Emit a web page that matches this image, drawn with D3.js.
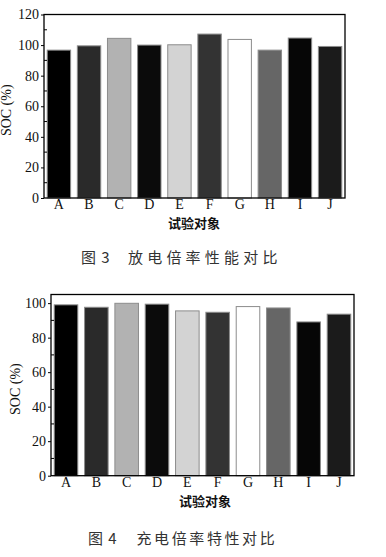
<!DOCTYPE html>
<html>
<head>
<meta charset="utf-8">
<script src="https://cdn.jsdelivr.net/npm/d3@7"></script>
<style>
  body { margin: 0; background: #fff; }
  svg { display: block; }
</style>
</head>
<body>
<div id="chart"></div>
<script>
// test objects A..J
const categories = ['A', 'B', 'C', 'D', 'E', 'F', 'G', 'H', 'I', 'J'];
// fig 3: discharge rate SOC (%)
const dischargeSOC = [96.7, 99.5, 104.4, 100, 100.2, 107.2, 103.7, 96.7, 104.6, 99.1];
// fig 4: charge rate SOC (%)
const chargeSOC = [99, 97.6, 99.9, 99.4, 95.5, 94.7, 98, 97.2, 89.1, 93.6];
const barColors = ['#000', '#2a2a2a', '#b2b2b2', '#0b0b0b', '#d3d3d3', '#333', '#fff', '#666', '#060606', '#1b1b1b'];
const ticks3 = [0, 20, 40, 60, 80, 100, 120];
const ticks4 = [0, 20, 40, 60, 80, 100];

const svg = d3.select('#chart').append('svg')
  .attr('width', 386)
  .attr('height', 557);

function drawChart(opt) {
  const x = d3.scaleBand()
    .domain(categories)
    .range([opt.left, opt.right])
    .paddingInner(0.19)
    .paddingOuter(0.09);
  const y = d3.scaleLinear()
    .domain(opt.domain)
    .range([opt.bottom, opt.top]);

  const g = svg.append('g');

  g.selectAll('rect.bar')
    .data(opt.values)
    .join('rect')
    .attr('class', 'bar')
    .attr('x', (d, i) => x(categories[i]) + 0.5)
    .attr('y', d => y(d))
    .attr('width', x.bandwidth() - 1)
    .attr('height', d => y(0) - y(d))
    .attr('fill', (d, i) => barColors[i])
    .attr('stroke', '#8c8c8c')
    .attr('stroke-width', 1);

  // minor ticks point inward
  const minor = d3.range(10, opt.domain[1], 20);
  g.selectAll('line.minor')
    .data(minor)
    .join('line')
    .attr('x1', opt.left).attr('x2', opt.left + 3)
    .attr('y1', d => y(d)).attr('y2', d => y(d))
    .attr('stroke', '#000');

  const yAxis = d3.axisLeft(y).tickValues(opt.ticks).tickSize(3).tickPadding(2);
  g.append('g')
    .attr('transform', `translate(${opt.left},0)`)
    .call(yAxis)
    .call(s => s.select('.domain').remove())
    .call(s => s.selectAll('text')
      .attr('font-family', '"Liberation Serif", serif')
      .attr('font-size', 14)
      .attr('fill', '#111'));

  const xAxis = d3.axisBottom(x).tickSize(0).tickPadding(1);
  g.append('g')
    .attr('transform', `translate(0,${opt.bottom})`)
    .call(xAxis)
    .call(s => s.select('.domain').remove())
    .call(s => s.selectAll('text')
      .attr('font-family', '"Liberation Serif", serif')
      .attr('font-size', 14)
      .attr('fill', '#111'));

  // frame
  g.append('rect')
    .attr('x', opt.left).attr('y', opt.top)
    .attr('width', opt.right - opt.left)
    .attr('height', opt.bottom - opt.top)
    .attr('fill', 'none')
    .attr('stroke', '#000')
    .attr('stroke-width', 1.3);

  g.append('text')
    .attr('transform', `translate(${opt.ylabX},${(opt.top + opt.bottom) / 2 + 4}) rotate(-90)`)
    .attr('text-anchor', 'middle')
    .attr('font-family', '"Liberation Serif", serif')
    .attr('font-size', 14)
    .attr('fill', '#111')
    .text('SOC (%)');

  g.append('text')
    .attr('x', opt.xlabX).attr('y', opt.bottom + 30)
    .attr('text-anchor', 'middle')
    .attr('font-family', '"Noto Sans CJK SC", sans-serif')
    .attr('font-weight', 'bold')
    .attr('font-size', 13)
    .attr('fill', '#111')
    .text('试验对象');

  const cap = g.append('g')
    .attr('font-family', '"Noto Sans CJK SC", sans-serif')
    .attr('font-size', 15)
    .attr('fill', '#333');
  cap.append('text')
    .attr('x', opt.capX).attr('y', opt.capY)
    .attr('letter-spacing', 1)
    .text(opt.figNo);
  cap.append('text')
    .attr('x', opt.capX2).attr('y', opt.capY)
    .attr('letter-spacing', opt.capSpacing)
    .text(opt.caption);
}

drawChart({
  values: dischargeSOC, domain: [0, 120], ticks: ticks3,
  left: 44, right: 345, top: 14.5, bottom: 198,
  ylabX: 11, xlabX: 194,
  figNo: '图 3', caption: '放电倍率性能对比',
  capX: 81, capX2: 128, capY: 263, capSpacing: 4.2
});

drawChart({
  values: chargeSOC, domain: [0, 105], ticks: ticks4,
  left: 51, right: 354, top: 294.5, bottom: 475.7,
  ylabX: 20, xlabX: 205,
  figNo: '图 4', caption: '充电倍率特性对比',
  capX: 88, capX2: 136.5, capY: 544, capSpacing: 2.6
});
</script>
</body>
</html>
